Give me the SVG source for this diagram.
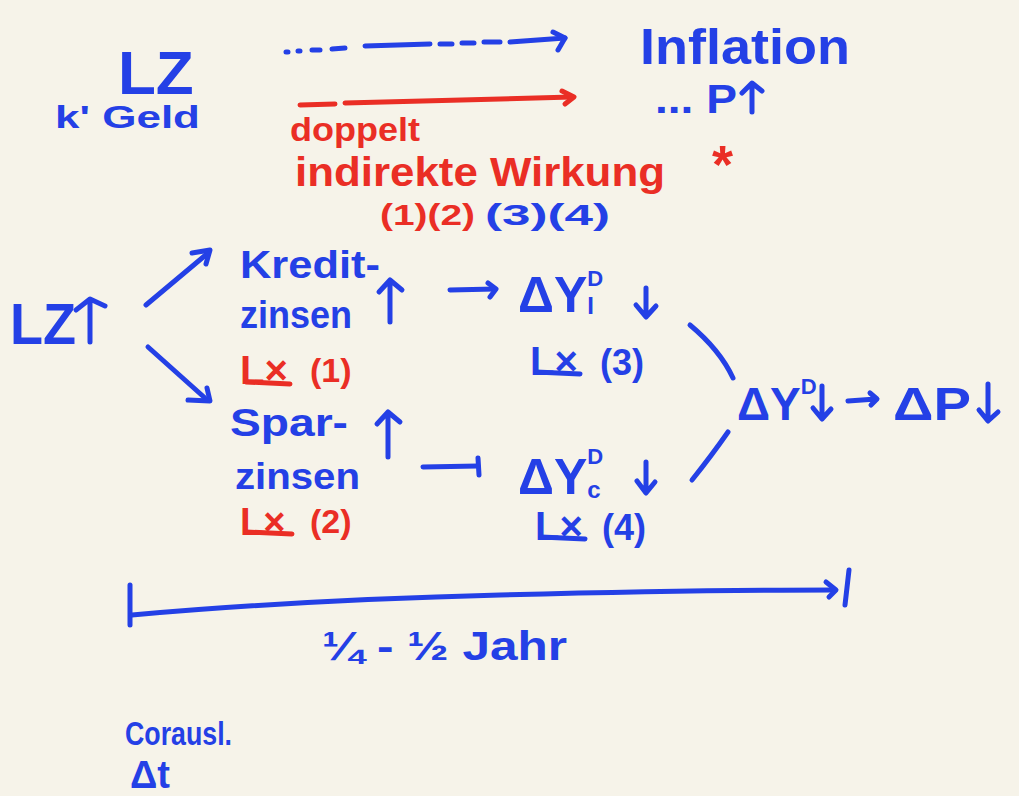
<svg xmlns="http://www.w3.org/2000/svg" width="1019" height="796" viewBox="0 0 1019 796">
<style>
.b{fill:#2440e6;font-family:"Liberation Sans",Arial,sans-serif;font-weight:bold}
.r{fill:#ea2e25;font-family:"Liberation Sans",Arial,sans-serif;font-weight:bold}
.lb{stroke:#2440e6;stroke-width:5;fill:none;stroke-linecap:round;stroke-linejoin:round}
.lr{stroke:#ea2e25;stroke-width:5;fill:none;stroke-linecap:round;stroke-linejoin:round}
</style>
<rect width="1019" height="796" fill="#f6f3e9"/>
<g id="lz-top">
<text class="b" x="118" y="94" font-size="62">LZ</text>
<text class="b" x="55" y="128" font-size="32" textLength="145" lengthAdjust="spacingAndGlyphs">k' Geld</text>
</g>
<g id="inflation">
<text class="b" x="640" y="64" font-size="50" textLength="210" lengthAdjust="spacingAndGlyphs">Inflation</text>
<text class="b" x="655" y="113" font-size="40" textLength="82" lengthAdjust="spacingAndGlyphs">... P</text>
<path class="lb" d="M752 112 L752 84 M742 93 L752 83 L762 91"/>
</g>
<g id="doppelt">
<text class="r" x="290" y="141" font-size="34" textLength="130" lengthAdjust="spacingAndGlyphs">doppelt</text>
<text class="r" x="295" y="186" font-size="40" textLength="370" lengthAdjust="spacingAndGlyphs">indirekte Wirkung</text>
<text class="r" x="712" y="183" font-size="54">*</text>
<text class="r" x="380" y="225" font-size="30" textLength="95" lengthAdjust="spacingAndGlyphs">(1)(2)</text>
<text class="b" x="485" y="225" font-size="30" textLength="125" lengthAdjust="spacingAndGlyphs">(3)(4)</text>
</g>
<g id="lz-up">
<text class="b" x="10" y="344" font-size="58" textLength="66" lengthAdjust="spacingAndGlyphs">LZ</text>
<path class="lb" d="M90 342 L90 300 M76 310 L90 299 L105 306"/>
</g>
<g id="kreditzinsen">
<text class="b" x="240" y="278" font-size="38" textLength="140" lengthAdjust="spacingAndGlyphs">Kredit-</text>
<text class="b" x="240" y="328" font-size="38" textLength="112" lengthAdjust="spacingAndGlyphs">zinsen</text>
<path class="lb" d="M390 322 L390 282 M379 292 L390 280 L402 290"/>
<text class="r" x="240" y="384" font-size="40">L×</text>
<line class="lr" x1="246" y1="382" x2="290" y2="384"/>
<text class="r" x="310" y="382" font-size="34">(1)</text>
</g>
<g id="sparzinsen">
<text class="b" x="230" y="436" font-size="38" textLength="118" lengthAdjust="spacingAndGlyphs">Spar-</text>
<text class="b" x="235" y="489" font-size="36" textLength="125" lengthAdjust="spacingAndGlyphs">zinsen</text>
<path class="lb" d="M388 457 L388 414 M377 424 L388 412 L400 422"/>
<text class="r" x="240" y="535" font-size="38">L×</text>
<line class="lr" x1="246" y1="532" x2="292" y2="534"/>
<text class="r" x="310" y="533" font-size="34">(2)</text>
</g>
<g id="dyi">
<text class="b" x="518" y="312" font-size="50">ΔY<tspan font-size="22" dy="-26">D</tspan><tspan font-size="24" dx="-16" dy="28">I</tspan></text>
<path class="lb" d="M646 288 L646 316 M636 305 L646 317 L656 306"/>
<text class="b" x="530" y="375" font-size="40">L×</text>
<line class="lb" x1="536" y1="372" x2="580" y2="374"/>
<text class="b" x="600" y="375" font-size="36">(3)</text>
</g>
<g id="dyc">
<text class="b" x="518" y="494" font-size="50">ΔY<tspan font-size="22" dy="-30">D</tspan><tspan font-size="24" dx="-16" dy="34">c</tspan></text>
<path class="lb" d="M646 462 L646 492 M637 481 L646 493 L655 482"/>
<text class="b" x="535" y="540" font-size="40">L×</text>
<line class="lb" x1="541" y1="537" x2="585" y2="539"/>
<text class="b" x="602" y="540" font-size="36">(4)</text>
</g>
<g id="dy">
<text class="b" x="737" y="420" font-size="46">ΔY<tspan font-size="22" dy="-26">D</tspan></text>
<path class="lb" d="M822 386 L822 418 M813 408 L822 419 L831 409"/>
<path class="lb" d="M848 401 L876 399 M870 393 L877 399 L871 405"/>
<text class="b" x="893" y="420" font-size="46" textLength="78" lengthAdjust="spacingAndGlyphs">ΔP</text>
<path class="lb" d="M988 384 L988 420 M979 410 L988 421 L998 412"/>
</g>
<g id="timeline-label">
<text class="b" x="322" y="660" font-size="40" textLength="245" lengthAdjust="spacingAndGlyphs">¼ - ½ Jahr</text>
</g>
<g id="corausl">
<text class="b" x="125" y="745" font-size="34" textLength="107" lengthAdjust="spacingAndGlyphs">Corausl.</text>
<text class="b" x="130" y="788" font-size="38">Δt</text>
</g>
<g id="connectors">
<path class="lb" d="M286 52 L288 52 M298 51 L300 51 M312 50 L320 50 M332 49 L345 48 M365 46 L430 44 M440 44 L452 44 M462 43 L474 43 M484 42 L500 42 M510 42 L565 38"/>
<path class="lb" d="M553 32 L565 38 L558 50"/>
<path class="lr" d="M300 105 L335 104 M345 103 L572 97"/>
<path class="lr" d="M562 91 L574 97 L565 104"/>
<path class="lb" d="M146 305 L208 253"/>
<path class="lb" d="M192 253 L210 250 L206 264"/>
<path class="lb" d="M148 347 L205 398"/>
<path class="lb" d="M188 400 L210 401 L207 388"/>
<path class="lb" d="M450 290 L495 289"/>
<path class="lb" d="M488 283 L496 289 L490 297"/>
<path class="lb" d="M423 467 L478 466"/>
<path class="lb" d="M478 458 L479 475"/>
<path class="lb" d="M690 325 Q720 350 733 378"/>
<path class="lb" d="M692 480 Q712 455 728 432"/>
<path class="lb" d="M130 585 L130 625"/>
<path class="lb" d="M132 615 Q300 600 500 595 Q700 590 835 590"/>
<path class="lb" d="M826 582 L836 590 L829 597"/>
<path class="lb" d="M849 570 L845 605"/>
</g>
</svg>
